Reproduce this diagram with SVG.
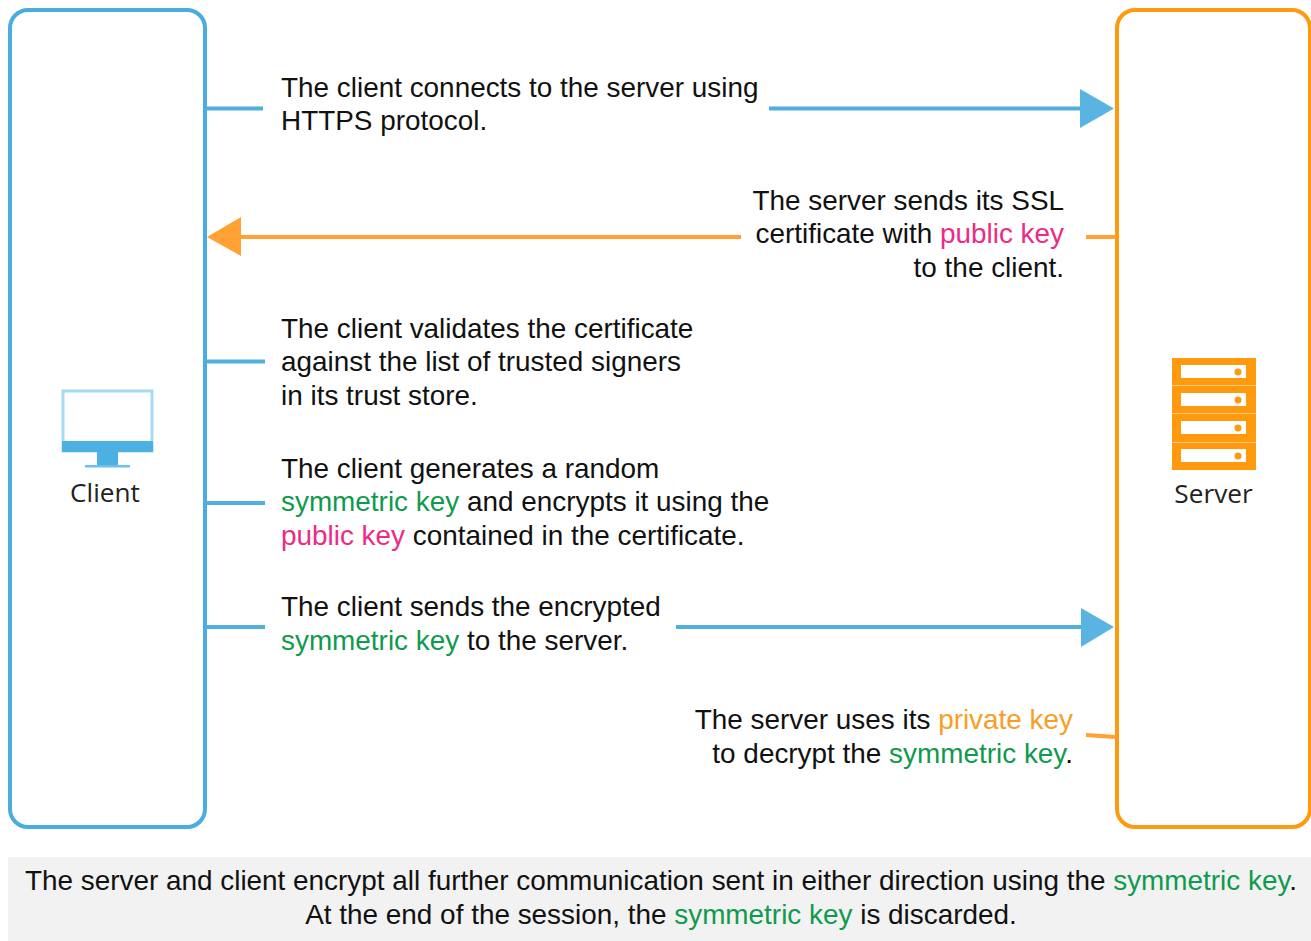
<svg xmlns="http://www.w3.org/2000/svg" width="1311" height="941" viewBox="0 0 1311 941">
<style>
text{font-family:"Liberation Sans",Arial,sans-serif;font-size:27.9px;fill:#111}
.lab{font-family:"Open Sans","Noto Sans",sans-serif;font-size:26.2px;fill:#222}
.g{fill:#0f9a4e}.p{fill:#ee2a86}.o{fill:#f99d25}
.bl{stroke:#4fb0e0;stroke-width:4;fill:none}
.or{stroke:#ffa133;stroke-width:4;fill:none}
.e{text-anchor:end}.m{text-anchor:middle}
</style>
<rect width="1311" height="941" fill="#fff"/>
<g id="client">
<rect x="10" y="10" width="195" height="817" rx="18" fill="#fff" stroke="#4aade0" stroke-width="4"/>
<rect x="63" y="391" width="89" height="60" fill="#fff" stroke="#a5dcf4" stroke-width="3"/>
<rect x="62" y="441" width="91" height="11" rx="1" fill="#4db0e2"/>
<rect x="97" y="452" width="21" height="13" fill="#4db0e2"/>
<rect x="85" y="465" width="45" height="2.500" fill="#6cc0ea"/>
<text class="lab m" x="105" y="502">Client</text>
</g>
<g id="server">
<rect x="1117" y="10" width="193" height="817" rx="18" fill="#fff" stroke="#ff9a0e" stroke-width="4"/>
<g fill="#ff9a0e">
<rect x="1172" y="358" width="84" height="27.500"/><rect x="1172" y="386" width="84" height="27.500"/><rect x="1172" y="414" width="84" height="28.500"/><rect x="1172" y="443" width="84" height="27"/>
</g>
<g fill="#fff">
<rect x="1181" y="365" width="65" height="13"/><rect x="1181" y="393" width="65" height="13"/><rect x="1181" y="421" width="65" height="13"/><rect x="1181" y="449" width="65" height="13"/>
</g>
<g fill="#ff9a0e">
<circle cx="1238" cy="372" r="3.500"/><circle cx="1238" cy="400" r="3.500"/><circle cx="1238" cy="428" r="3.500"/><circle cx="1238" cy="456" r="3.500"/>
</g>
<text class="lab m" x="1213.500" y="503">Server</text>
</g>
<g id="connectors">
<path class="bl" d="M206 108.500H263M206 361.500H265M206 503H265M206 627H265M769 108.500H1082M676 627H1082"/>
<path class="or" d="M1086 237H1116M1086 735L1116 737M741 237H240"/>
<polygon points="1080,89 1114,108.500 1080,128" fill="#5ab4e2"/>
<polygon points="1081,608 1114,627 1081,647" fill="#5ab4e2"/>
<polygon points="207,237 241,217 241,256" fill="#ffa133"/>
</g>
<g id="labels">
<text x="281" y="97">The client connects to the server using</text>
<text x="281" y="130">HTTPS protocol.</text>
<text class="e" x="1064" y="210">The server sends its SSL</text>
<text class="e" x="1064" y="243">certificate with <tspan class="p">public key</tspan></text>
<text class="e" x="1064" y="277">to the client.</text>
<text x="281" y="338">The client validates the certificate</text>
<text x="281" y="371">against the list of trusted signers</text>
<text x="281" y="405">in its trust store.</text>
<text x="281" y="478">The client generates a random</text>
<text x="281" y="511"><tspan class="g">symmetric key</tspan> and encrypts it using the</text>
<text x="281" y="545"><tspan class="p">public key</tspan> contained in the certificate.</text>
<text x="281" y="616">The client sends the encrypted</text>
<text x="281" y="650"><tspan class="g">symmetric key</tspan> to the server.</text>
<text class="e" x="1073" y="729">The server uses its <tspan class="o">private key</tspan></text>
<text class="e" x="1073" y="763">to decrypt the <tspan class="g">symmetric key</tspan>.</text>
</g>
<g id="note">
<rect x="8" y="857" width="1303" height="84" fill="#f2f2f2"/>
<text class="m" x="661" y="890">The server and client encrypt all further communication sent in either direction using the <tspan class="g">symmetric key</tspan>.</text>
<text class="m" x="661" y="924">At the end of the session, the <tspan class="g">symmetric key</tspan> is discarded.</text>
</g>
</svg>
